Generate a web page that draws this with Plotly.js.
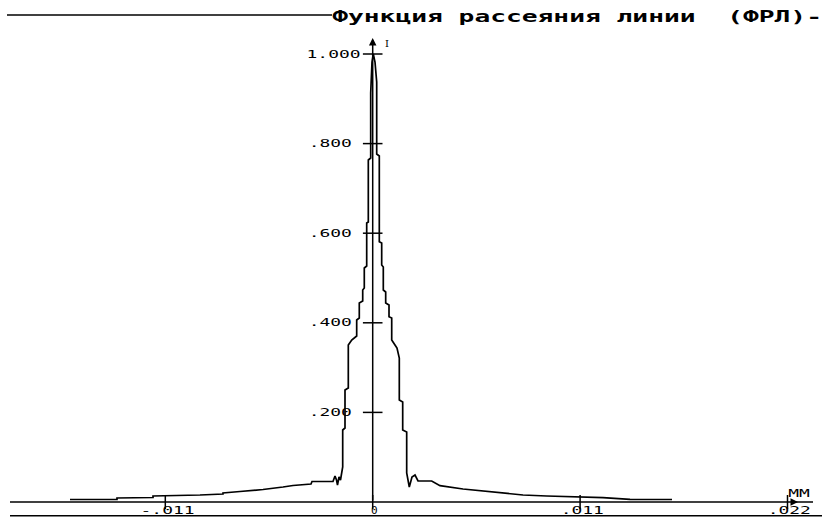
<!DOCTYPE html>
<html>
<head>
<meta charset="utf-8">
<script src="https://cdn.plot.ly/plotly-3.0.1.min.js"></script>
<style>html,body{margin:0;padding:0;background:#fff;}#chart{width:822px;height:522px;}</style>
</head>
<body>
<div id="chart"></div>
<script>
// ---- data ----
const titleText = "Функция рассеяния линии  (ФРЛ)-";
const xUnit = "ММ";
const yUnit = "I";

// line spread function: position (mm) and relative intensity
const xMm = [
  -0.016055, -0.013562, -0.013562, -0.011652, -0.011652, -0.009160, -0.009160, -0.007940, -0.007940,
  -0.007038, -0.005818, -0.004757, -0.004227, -0.003272, -0.003219, -0.002106, -0.002000, -0.001920,
  -0.001867, -0.001787, -0.001708, -0.001591, -0.001591, -0.001469, -0.001469, -0.001294, -0.001294,
  -0.001114, -0.000849, -0.000849, -0.000711, -0.000711, -0.000530, -0.000530, -0.000446, -0.000446,
  -0.000318, -0.000318, -0.000233, -0.000233, -0.000106, -0.000106, -0.000037, 0.000032, 0.000122,
  0.000212, 0.000212, 0.000350, 0.000350, 0.000477, 0.000477, 0.000562, 0.000562, 0.000689, 0.000689,
  0.000865, 0.000865, 0.001008, 0.001008, 0.001183, 0.001289, 0.001411, 0.001411, 0.001591, 0.001591,
  0.001803, 0.001803, 0.001941, 0.002030, 0.002084, 0.002244, 0.002403, 0.003129, 0.003569, 0.004789,
  0.005850, 0.006911, 0.007972, 0.009229, 0.010995, 0.012215, 0.013647, 0.015874
];
const intensity = [
  0.00558, 0.00603, 0.00893, 0.01004, 0.01339, 0.01451, 0.01563, 0.01786, 0.02009,
  0.02344, 0.02790, 0.03348, 0.03683, 0.04018, 0.04576, 0.04576, 0.05804, 0.04911,
  0.03795, 0.05580, 0.04911, 0.07813, 0.16071, 0.16518, 0.25000, 0.25446, 0.35045,
  0.36161, 0.37054, 0.40625, 0.41071, 0.44420, 0.44866, 0.47321, 0.47768, 0.52232,
  0.52679, 0.62277, 0.62500, 0.76339, 0.76786, 0.91295, 0.98214, 1.00000, 0.98214,
  0.93750, 0.77679, 0.77232, 0.58103, 0.57813, 0.52902, 0.52455, 0.47321, 0.46875, 0.44420,
  0.43973, 0.41362, 0.41071, 0.36161, 0.35045, 0.34375, 0.32143, 0.22768, 0.22321, 0.16071,
  0.15625, 0.06473, 0.03348, 0.04911, 0.05580, 0.06027, 0.04688, 0.04688, 0.03638, 0.02902,
  0.02455, 0.01942, 0.01563, 0.01339, 0.01183, 0.00960, 0.00603, 0.00558
];

const yTickVals = [0.2, 0.4, 0.6, 0.8, 1.0];
const yTickText = [".200", ".400", ".600", ".800", "1.000"];
const xTickVals = [-0.011, 0, 0.011, 0.022];
const xTickText = ["-.011", "0", ".011", ".022"];

// ---- geometry of the frame (pixels of the 822x522 picture) ----
const W = 822, H = 522;
const px0 = 372.7, pxPerMm = 207.4 / 0.011;     // x = 0 at pixel 372.7
const py0 = 502, pyPerUnit = 448;               // y = 0 at pixel 502
const xRange = [(0 - px0) / pxPerMm, (W - px0) / pxPerMm];
const yRange = [(py0 - H) / pyPerUnit, py0 / pyPerUnit];
const pxX = p => (p - px0) / pxPerMm;
const pyY = p => (py0 - p) / pyPerUnit;

const mono = "DejaVu Sans Mono, Liberation Mono, monospace";

const traces = [
  {
    x: xMm, y: intensity, type: "scatter", mode: "lines",
    line: {color: "#000", width: 1.7}, hoverinfo: "skip"
  },
  {
    x: yTickVals.map(() => 0), y: yTickVals, type: "scatter", mode: "markers",
    marker: {symbol: "line-ew", size: 14, color: "#000", line: {color: "#000", width: 1.5}},
    hoverinfo: "skip"
  },
  {
    x: xTickVals, y: xTickVals.map(() => 0), type: "scatter", mode: "markers",
    marker: {symbol: "line-ns", size: 10, color: "#000", line: {color: "#000", width: 1.5}},
    hoverinfo: "skip"
  }
];

const annotations = [];
yTickVals.forEach((v, i) => annotations.push({
  x: 0, y: v, xref: "x", yref: "y", xanchor: "left", yanchor: "middle",
  xshift: -58, showarrow: false, text: yTickText[i],
  font: {family: mono, size: 11, color: "#000"}
}));
xTickVals.forEach((v, i) => annotations.push({
  x: v, y: 0, xref: "x", yref: "y", xanchor: "center", yanchor: "middle",
  xshift: 2, yshift: -8, showarrow: false, text: xTickText[i],
  font: {family: mono, size: 11, color: "#000"}
}));
// y axis with arrow
annotations.push({
  x: 0, y: pyY(38), ax: 0, ay: 0, xref: "x", yref: "y", axref: "x", ayref: "y",
  showarrow: true, arrowhead: 2, arrowsize: 1, arrowwidth: 1.5, arrowcolor: "#000", text: ""
});
// x axis arrow head
annotations.push({
  x: pxX(798), y: 0, xref: "x", yref: "y", ax: -8, ay: 0,
  showarrow: true, arrowhead: 2, arrowsize: 1, arrowwidth: 1.5, arrowcolor: "#000", text: ""
});
annotations.push({
  x: 0, y: pyY(43), xref: "x", yref: "y", xanchor: "left", yanchor: "middle", xshift: 10,
  showarrow: false, text: yUnit, font: {family: "DejaVu Serif, serif", size: 10, color: "#000"}
});
annotations.push({
  x: pxX(799), y: pyY(493), xref: "x", yref: "y", xanchor: "center", yanchor: "middle",
  showarrow: false, text: xUnit, font: {family: mono, size: 10, color: "#000"}
});

const shapes = [
  // x axis line
  {type: "line", xref: "paper", yref: "y", x0: 10 / W, x1: 813 / W, y0: 0, y1: 0,
   line: {color: "#000", width: 1.5}},
  // line before the title
  {type: "line", xref: "paper", yref: "paper", x0: 7 / W, x1: 332 / W, y0: 1 - 15 / H, y1: 1 - 15 / H,
   line: {color: "#000", width: 1.6}},
  // bottom frame line
  {type: "line", xref: "paper", yref: "paper", x0: 10 / W, x1: 1, y0: 1 - 515.7 / H, y1: 1 - 515.7 / H,
   line: {color: "#000", width: 1.5}}
];

const layout = {
  width: W, height: H,
  margin: {l: 0, r: 0, t: 0, b: 0, pad: 0},
  paper_bgcolor: "#fff", plot_bgcolor: "#fff",
  showlegend: false,
  title: {
    text: titleText, xref: "container", yref: "container",
    x: 1, xanchor: "right", y: 1 - 16 / H, yanchor: "middle",
    font: {family: mono, size: 16, weight: "bold", color: "#000"}
  },
  xaxis: {range: xRange, visible: false, fixedrange: true},
  yaxis: {range: yRange, visible: false, fixedrange: true},
  annotations: annotations,
  shapes: shapes
};

Plotly.newPlot("chart", traces, layout, {staticPlot: true, displayModeBar: false}).then(gd => {
  const stretch = (el, cell) => {
    const t = el.textContent;
    if (!t || t.length < 2) return;
    el.setAttribute("textLength", (t.length * cell).toFixed(1));
    el.setAttribute("lengthAdjust", "spacingAndGlyphs");
  };
  gd.querySelectorAll("text.gtitle").forEach(el => stretch(el, 15.8));
  gd.querySelectorAll("text.annotation-text").forEach(el => stretch(el, 10.8));
});
</script>
</body>
</html>
